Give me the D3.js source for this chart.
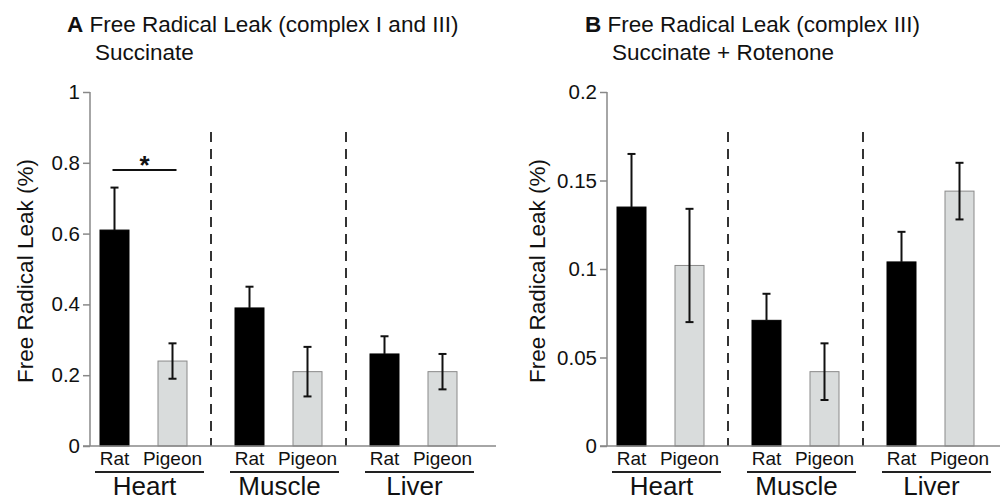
<!DOCTYPE html>
<html>
<head>
<meta charset="utf-8">
<script src="https://cdn.jsdelivr.net/npm/d3@7"></script>
<style>
  html, body { margin: 0; padding: 0; background: #fff; }
  svg { display: block; font-family: "Liberation Sans", Arial, sans-serif; }
</style>
</head>
<body>
<svg id="chart" width="1000" height="499"></svg>
<script>
// ---- Data ----
const tissues = ["Heart", "Muscle", "Liver"];
const species = ["Rat", "Pigeon"];

const panelATitle = "Free Radical Leak (complex I and III)";
const panelASub = "Succinate";
const panelARat = [0.61, 0.39, 0.26];
const panelARatErr = [0.12, 0.06, 0.05];
const panelAPigeon = [0.24, 0.21, 0.21];
const panelAPigeonErr = [0.05, 0.07, 0.05];
const panelATicks = [0, 0.2, 0.4, 0.6, 0.8, 1];
const panelATickLabels = ["0", "0.2", "0.4", "0.6", "0.8", "1"];

const panelBTitle = "Free Radical Leak (complex III)";
const panelBSub = "Succinate + Rotenone";
const panelBRat = [0.135, 0.071, 0.104];
const panelBRatErr = [0.030, 0.015, 0.017];
const panelBPigeon = [0.102, 0.042, 0.144];
const panelBPigeonErr = [0.032, 0.016, 0.016];
const panelBTicks = [0, 0.05, 0.1, 0.15, 0.2];
const panelBTickLabels = ["0", "0.05", "0.1", "0.15", "0.2"];

const yLabel = "Free Radical Leak (%)";

const svg = d3.select("#chart");

function drawPanel(cfg) {
  const g = svg.append("g").attr("transform", `translate(${cfg.dx},0)`);
  const axisX = 90;
  const y = d3.scaleLinear().domain([0, cfg.max]).range([446, 92]);
  const xGroup = d3.scaleBand().domain(tissues).range([76, 481]).padding(0);
  const xSp = d3.scalePoint().domain(species).range([-29, 29]);
  const barW = 29;

  // titles
  const t = g.append("text").attr("x", cfg.letterX).attr("y", 32)
    .attr("font-size", 22.5).attr("fill", "#111");
  t.append("tspan").attr("font-weight", "bold").text(cfg.letter);
  t.append("tspan").text(" " + cfg.title);
  g.append("text").attr("x", cfg.subX).attr("y", 60)
    .attr("font-size", 22.5).attr("fill", "#111").text(cfg.sub);

  // y axis
  const axis = d3.axisLeft(y).tickValues(cfg.ticks)
    .tickFormat((d, i) => cfg.tickLabels[i]).tickSize(7).tickPadding(3);
  const ag = g.append("g").attr("transform", `translate(${axisX},0)`).call(axis);
  ag.select(".domain").attr("stroke", "#888").attr("stroke-width", 1.5)
    .attr("d", `M0,${y(cfg.max)}V${y(0)}`);
  ag.selectAll(".tick line").attr("stroke", "#888").attr("stroke-width", 1.5);
  ag.selectAll(".tick text").attr("font-size", 20.5).attr("fill", "#111")
    .attr("font-family", "Liberation Sans, Arial, sans-serif");

  // y label
  g.append("text").attr("transform", `translate(${cfg.ylabX},271) rotate(-90)`)
    .attr("text-anchor", "middle").attr("dy", "0.35em")
    .attr("font-size", 22.5).attr("fill", "#111").text(yLabel);

  // dashed separators
  tissues.slice(1).forEach(ti => {
    const xx = xGroup(ti);
    g.append("line").attr("x1", xx).attr("x2", xx).attr("y1", 132).attr("y2", 446)
      .attr("stroke", "#333").attr("stroke-width", 2).attr("stroke-dasharray", "10,7");
  });

  // bars
  const rows = [];
  tissues.forEach((ti, i) => {
    rows.push({ t: ti, s: "Rat", v: cfg.rat[i], e: cfg.ratErr[i] });
    rows.push({ t: ti, s: "Pigeon", v: cfg.pig[i], e: cfg.pigErr[i] });
  });
  const cx = d => xGroup(d.t) + xGroup.bandwidth() / 2 + xSp(d.s);
  g.selectAll("rect.bar").data(rows).enter().append("rect")
    .attr("x", d => cx(d) - barW / 2).attr("width", barW)
    .attr("y", d => y(d.v)).attr("height", d => y(0) - y(d.v))
    .attr("fill", d => d.s === "Rat" ? "#000" : "#d9dcdc")
    .attr("stroke", d => d.s === "Rat" ? "#000" : "#8a8a8a").attr("stroke-width", 1);

  // error bars (rat: upper half only, lower half hidden by the black bar)
  rows.forEach(d => {
    const x0 = cx(d);
    const lo = d.s === "Rat" ? d.v : d.v - d.e;
    g.append("line").attr("x1", x0).attr("x2", x0).attr("y1", y(lo)).attr("y2", y(d.v + d.e))
      .attr("stroke", "#111").attr("stroke-width", 2);
    const caps = d.s === "Rat" ? [d.v + d.e] : [d.v - d.e, d.v + d.e];
    caps.forEach(v => {
      g.append("line").attr("x1", x0 - 4).attr("x2", x0 + 4).attr("y1", y(v)).attr("y2", y(v))
        .attr("stroke", "#111").attr("stroke-width", 2);
    });
  });

  // baseline
  g.append("line").attr("x1", 83).attr("x2", cfg.baseEnd).attr("y1", 446).attr("y2", 446)
    .attr("stroke", "#888").attr("stroke-width", 1.5);

  // species labels, underlines, group labels
  tissues.forEach(ti => {
    const c = xGroup(ti) + xGroup.bandwidth() / 2;
    species.forEach(s => {
      g.append("text").attr("x", c + xSp(s)).attr("y", 465).attr("text-anchor", "middle")
        .attr("font-size", 19).attr("fill", "#111").text(s);
    });
    g.append("line").attr("x1", c + xSp("Rat") - 19.5).attr("x2", c + xSp("Pigeon") + 31.5)
      .attr("y1", 472).attr("y2", 472).attr("stroke", "#222").attr("stroke-width", 2);
    g.append("text").attr("x", c + 1).attr("y", 495).attr("text-anchor", "middle")
      .attr("font-size", 26).attr("fill", "#111").text(ti);
  });

  if (cfg.sig) {
    const x1 = xGroup("Heart") + xGroup.bandwidth() / 2 + xSp("Rat") - 2;
    const x2 = xGroup("Heart") + xGroup.bandwidth() / 2 + xSp("Pigeon") + 4;
    g.append("line").attr("x1", x1).attr("x2", x2).attr("y1", 170).attr("y2", 170)
      .attr("stroke", "#111").attr("stroke-width", 2);
    g.append("text").attr("x", (x1 + x2) / 2).attr("y", 174).attr("text-anchor", "middle")
      .attr("font-size", 26).attr("font-weight", "bold").attr("fill", "#111").text("*");
  }
}

drawPanel({ dx: 0, max: 1, ticks: panelATicks, tickLabels: panelATickLabels,
  rat: panelARat, ratErr: panelARatErr, pig: panelAPigeon, pigErr: panelAPigeonErr,
  letter: "A", title: panelATitle, sub: panelASub, letterX: 67, subX: 95, ylabX: 25,
  baseEnd: 496, sig: true });
drawPanel({ dx: 517, max: 0.2, ticks: panelBTicks, tickLabels: panelBTickLabels,
  rat: panelBRat, ratErr: panelBRatErr, pig: panelBPigeon, pigErr: panelBPigeonErr,
  letter: "B", title: panelBTitle, sub: panelBSub, letterX: 68, subX: 95, ylabX: 20,
  baseEnd: 483, sig: false });
</script>
</body>
</html>
